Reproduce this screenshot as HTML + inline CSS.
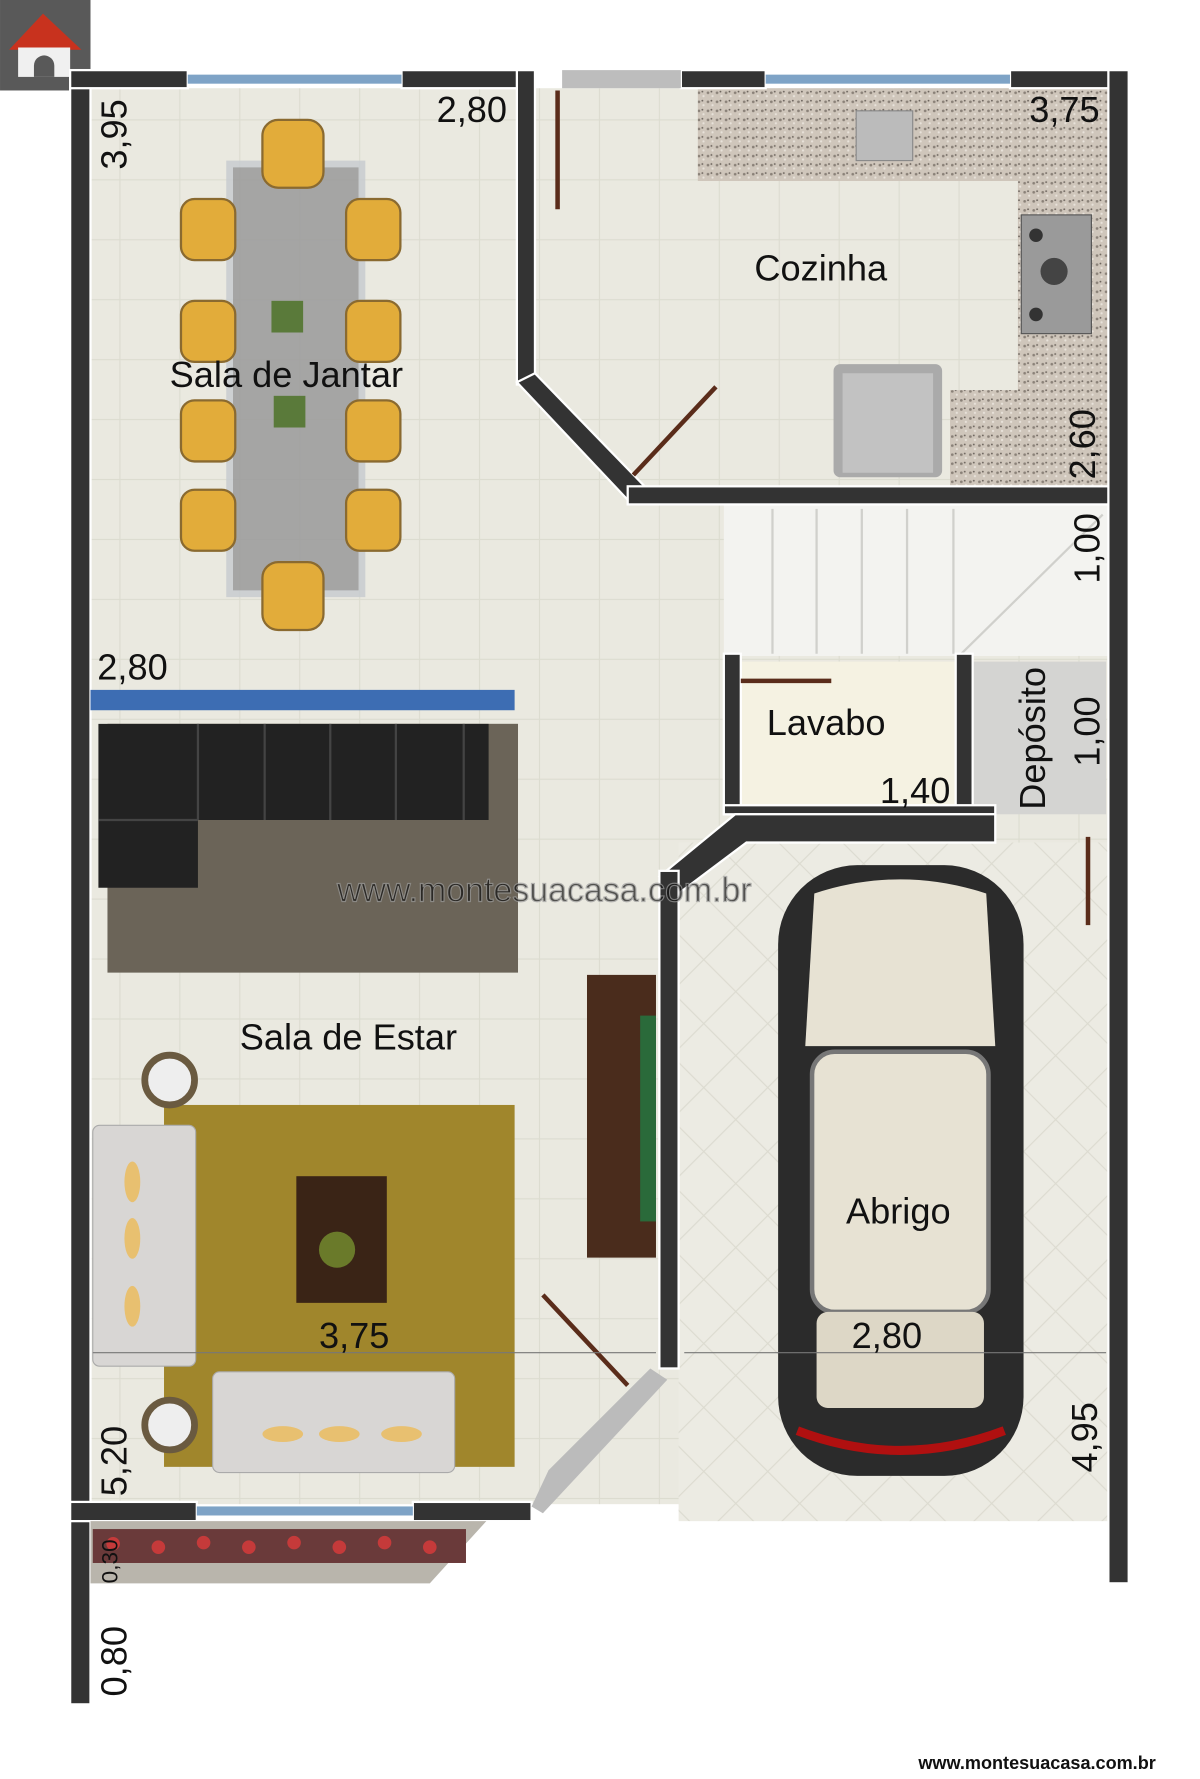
<!DOCTYPE html>
<html><head><meta charset="utf-8"><style>
html,body{margin:0;padding:0;background:#fff;width:1200px;height:1779px;overflow:hidden}
svg{display:block}
text{font-family:"Liberation Sans",sans-serif;fill:#111}
</style></head><body>
<svg width="1200" height="1779" viewBox="0 0 1061 1573" xmlns="http://www.w3.org/2000/svg">
<defs>
<pattern id="tile" width="53" height="53" patternUnits="userSpaceOnUse"><rect width="53" height="53" fill="#eae9e0"/><rect width="53" height="53" fill="none" stroke="#dcdcd0" stroke-width="1"/></pattern>
<pattern id="diag" width="40" height="40" patternUnits="userSpaceOnUse" patternTransform="rotate(45)"><rect width="40" height="40" fill="#ecebe3"/><rect width="40" height="40" fill="none" stroke="#dcdbd0" stroke-width="1"/></pattern>
<pattern id="gran" width="8" height="8" patternUnits="userSpaceOnUse"><rect width="8" height="8" fill="#cfc6bb"/><circle cx="2" cy="2" r="1.2" fill="#8a8178"/><circle cx="6" cy="5" r="1" fill="#e8e2da"/><circle cx="5" cy="1" r=".8" fill="#6d655e"/></pattern>
</defs>
<rect x="0" y="0" width="80" height="80" fill="#595959"/>
<polygon points="8,44 38,12 72,44" fill="#c8321e"/>
<rect x="16" y="42" width="46" height="26" fill="#f0f0f0"/>
<path d="M30 68 v-10 a9 9 0 0 1 18 0 v10z" fill="#595959"/>
<rect x="80" y="78" width="900" height="1252" fill="url(#tile)"/>
<rect x="600" y="745" width="380" height="600" fill="url(#diag)"/>
<rect x="640" y="446" width="340" height="134" fill="#f3f3f0"/>
<g stroke="#d0d0cc" stroke-width="2"><line x1="683" y1="450" x2="683" y2="578"/><line x1="722" y1="450" x2="722" y2="578"/><line x1="762" y1="450" x2="762" y2="578"/><line x1="802" y1="450" x2="802" y2="578"/><line x1="843" y1="450" x2="843" y2="578"/><line x1="850" y1="578" x2="975" y2="455"/></g>
<rect x="655" y="585" width="190" height="130" fill="#f5f2e2"/>
<rect x="860" y="585" width="118" height="135" fill="#d4d4d2"/>
<path d="M617 78 H980 V430 H840 V345 H900 V160 H617Z" fill="url(#gran)"/>
<rect x="757" y="98" width="50" height="44" fill="#bbb" stroke="#888"/>
<rect x="903" y="190" width="62" height="105" fill="#9a9a9a" stroke="#555"/>
<circle cx="932" cy="240" r="12" fill="#444"/><circle cx="916" cy="208" r="6" fill="#333"/><circle cx="916" cy="278" r="6" fill="#333"/>
<rect x="737" y="322" width="96" height="100" rx="6" fill="#aaa"/>
<rect x="745" y="330" width="80" height="88" fill="#c2c2c2"/>
<g fill="#333" stroke="#fff" stroke-width="2">
<rect x="62" y="62" width="18" height="1445"/>
<rect x="62" y="62" width="104" height="16"/>
<rect x="355" y="62" width="118" height="16"/>
<rect x="457" y="62" width="16" height="278"/>
<polygon points="457,338 473,330 570,430 555,442"/>
<rect x="555" y="430" width="443" height="16"/>
<rect x="602" y="62" width="75" height="16"/>
<rect x="893" y="62" width="105" height="16"/>
<rect x="980" y="62" width="18" height="1338"/>
<rect x="640" y="578" width="15" height="142"/>
<rect x="845" y="578" width="15" height="142"/>
<rect x="640" y="712" width="240" height="8"/>
<polygon points="650,720 880,720 880,745 660,745 600,790 583,775"/>
<rect x="583" y="770" width="17" height="440"/>
<rect x="62" y="1328" width="112" height="17"/>
<rect x="365" y="1328" width="105" height="17"/>
</g>
<g fill="#7ea3c6"><rect x="166" y="66" width="189" height="8"/><rect x="677" y="66" width="216" height="8"/><rect x="174" y="1332" width="191" height="8"/></g>
<rect x="497" y="62" width="105" height="16" fill="#bdbdbd"/>
<g stroke="#5a2c1a" stroke-width="4"><line x1="493" y1="80" x2="493" y2="185"/><line x1="560" y1="420" x2="633" y2="342"/><line x1="480" y1="1145" x2="555" y2="1225"/><line x1="962" y1="740" x2="962" y2="818"/><line x1="655" y1="602" x2="735" y2="602"/></g>
<polygon points="470,1332 485,1300 575,1210 590,1220 480,1338" fill="#bbb"/>
<polygon points="80,1345 430,1345 380,1400 80,1400" fill="#b9b5ac"/>
<rect x="82" y="1352" width="330" height="30" fill="#6a3a3a"/>
<g fill="#c53a3a"><circle cx="100" cy="1365" r="6"/><circle cx="140" cy="1368" r="6"/><circle cx="180" cy="1364" r="6"/><circle cx="220" cy="1368" r="6"/><circle cx="260" cy="1364" r="6"/><circle cx="300" cy="1368" r="6"/><circle cx="340" cy="1364" r="6"/><circle cx="380" cy="1368" r="6"/></g>
<rect x="203" y="145" width="117" height="380" fill="#9a9a9a" stroke="#c8ccd0" stroke-width="6" opacity=".85"/>
<g fill="#e2ac3a" stroke="#8a6a30" stroke-width="2">
<rect x="232" y="106" width="54" height="60" rx="14"/><rect x="232" y="497" width="54" height="60" rx="14"/>
<rect x="160" y="176" width="48" height="54" rx="12"/><rect x="160" y="266" width="48" height="54" rx="12"/><rect x="160" y="354" width="48" height="54" rx="12"/><rect x="160" y="433" width="48" height="54" rx="12"/>
<rect x="306" y="176" width="48" height="54" rx="12"/><rect x="306" y="266" width="48" height="54" rx="12"/><rect x="306" y="354" width="48" height="54" rx="12"/><rect x="306" y="433" width="48" height="54" rx="12"/>
</g>
<rect x="240" y="266" width="28" height="28" fill="#5a7a3a"/><rect x="242" y="350" width="28" height="28" fill="#5a7a3a"/>
<rect x="80" y="610" width="375" height="18" fill="#3d6db3"/>
<rect x="95" y="640" width="363" height="220" fill="#6b6458"/>
<path d="M87 640 H432 V725 H175 V785 H87Z" fill="#222"/>
<g stroke="#444" stroke-width="2"><line x1="175" y1="640" x2="175" y2="725"/><line x1="234" y1="640" x2="234" y2="725"/><line x1="292" y1="640" x2="292" y2="725"/><line x1="350" y1="640" x2="350" y2="725"/><line x1="410" y1="640" x2="410" y2="725"/><line x1="87" y1="725" x2="175" y2="725"/></g>
<rect x="519" y="862" width="61" height="250" fill="#4a2c1c"/>
<rect x="566" y="898" width="14" height="182" fill="#2a6a3a"/>
<rect x="145" y="977" width="310" height="320" fill="#a0862c"/>
<rect x="82" y="995" width="91" height="213" rx="6" fill="#d8d6d4" stroke="#aaa"/>
<rect x="188" y="1213" width="214" height="89" rx="6" fill="#d8d6d4" stroke="#aaa"/>
<g fill="#e8c070"><ellipse cx="117" cy="1045" rx="7" ry="18"/><ellipse cx="117" cy="1095" rx="7" ry="18"/><ellipse cx="117" cy="1155" rx="7" ry="18"/><ellipse cx="250" cy="1268" rx="18" ry="7"/><ellipse cx="300" cy="1268" rx="18" ry="7"/><ellipse cx="355" cy="1268" rx="18" ry="7"/></g>
<rect x="262" y="1040" width="80" height="112" fill="#3a2416"/>
<circle cx="298" cy="1105" r="16" fill="#6a7a2a"/>
<g fill="#eee" stroke="#6a5a40" stroke-width="6"><circle cx="150" cy="955" r="22"/><circle cx="150" cy="1260" r="22"/></g>
<rect x="688" y="765" width="217" height="540" rx="70" fill="#2b2b2b"/>
<path d="M720 790 Q796 765 872 790 L880 925 H712Z" fill="#e7e2d3"/>
<rect x="718" y="930" width="156" height="230" rx="20" fill="#e7e2d3" stroke="#777" stroke-width="4"/>
<rect x="722" y="1160" width="148" height="85" rx="10" fill="#ddd7c6"/>
<path d="M705 1265 Q796 1300 888 1265" stroke="#b01010" stroke-width="8" fill="none"/>
<g stroke="#777" stroke-width="1"><line x1="82" y1="1196" x2="580" y2="1196"/><line x1="605" y1="1196" x2="978" y2="1196"/></g>
<g font-size="32">
<text x="667" y="248">Cozinha</text>
<text x="150" y="342">Sala de Jantar</text>
<text x="678" y="650">Lavabo</text>
<text x="212" y="928">Sala de Estar</text>
<text x="748" y="1082">Abrigo</text>
<text x="386" y="108">2,80</text>
<text x="910" y="108">3,75</text>
<text x="86" y="601">2,80</text>
<text x="778" y="710">1,40</text>
<text x="282" y="1192">3,75</text>
<text x="753" y="1192">2,80</text>
<text transform="translate(112 150) rotate(-90)">3,95</text>
<text transform="translate(968 424) rotate(-90)">2,60</text>
<text transform="translate(972 516) rotate(-90)">1,00</text>
<text transform="translate(972 678) rotate(-90)">1,00</text>
<text transform="translate(924 716) rotate(-90)">Depósito</text>
<text transform="translate(970 1302) rotate(-90)">4,95</text>
<text transform="translate(112 1323) rotate(-90)">5,20</text>
<text transform="translate(104 1400) rotate(-90)" font-size="20">0,30</text>
<text transform="translate(112 1500) rotate(-90)">0,80</text>
</g>
<text x="298" y="797" font-size="30" fill="none" stroke="#999" stroke-width="1" opacity=".7">www.montesuacasa.com.br</text>
<text x="812" y="1564" font-size="16" font-weight="bold">www.montesuacasa.com.br</text>
</svg>
</body></html>
